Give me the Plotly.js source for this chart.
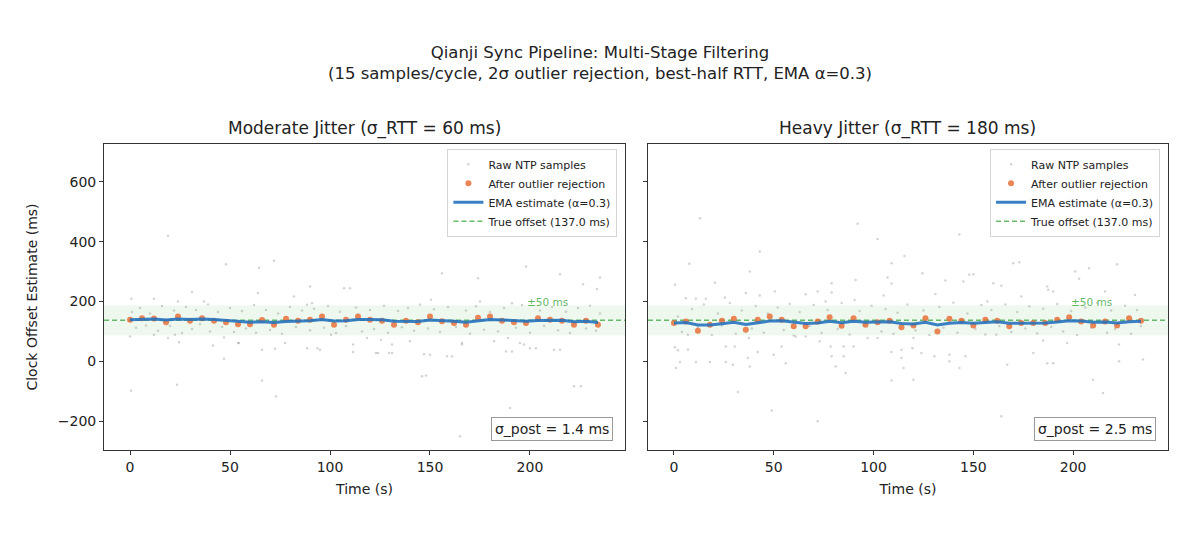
<!DOCTYPE html>
<html>
<head>
<meta charset="utf-8">
<script src="https://cdn.plot.ly/plotly-3.0.1.min.js"></script>
<style>
  body { margin: 0; background: #fff; }
  #chart { width: 1200px; height: 535px; }
</style>
</head>
<body>
<div id="chart"></div>
<script>
const trueOffset = 137.0
const bandHalf = 50

const cycleTimes = [0, 6, 12, 18, 24, 30, 36, 42, 48, 54, 60, 66, 72, 78, 84, 90, 96, 102, 108, 114,
    120, 126, 132, 138, 144, 150, 156, 162, 168, 174, 180, 186, 192, 198, 204, 210, 216, 222, 228, 234]

// moderate jitter panel
const modKept = [139, 144, 143, 131, 150, 136, 144, 136, 131, 124, 124, 138, 122, 142, 136, 139, 150, 122, 139, 150,
    139, 136, 122, 136, 131, 150, 134, 128, 122, 146, 150, 136, 131, 128, 144, 139, 136, 122, 136, 122]
const modEma = [139.0, 140.5, 141.3, 138.2, 141.7, 140.0, 141.2, 139.6, 137.0, 133.1, 130.4, 132.7, 129.5, 133.2, 134.1, 135.6, 139.9, 134.5, 135.9, 140.1,
    139.8, 138.7, 133.7, 134.4, 133.4, 138.4, 137.1, 134.4, 130.7, 135.3, 139.7, 138.6, 136.3, 133.8, 136.9, 137.5, 137.1, 132.6, 133.6, 130.1]
const modRawT = [19, 48, 64.5, 72, 90, 110, 64, 82, 0.7, 12, 24, 37, 91, 88.5, 0, 12, 19, 22.5, 24.5, 41.5,
    47, 54.5, 66, 72.5, 77.5, 88.5, 95, 100.5, 111.5, 111.5, 47, 66, 73, 0.5, 23.5, 146, 165, 190, 201, 222,
    158.5, 147, 129.5, 123, 200, 212, 188, 189, 195, 182, 166, 140, 93.7, 54, 156, 198, 174, 215, 226.5, 235,
    233.5, 150.5, 175, 191, 118.5, 125.5, 131, 124, 131, 150, 161, 166, 191, 197, 203, 215, 148, 225.5, 107, 31,
    1, 3, 5, 8, 10, 14, 16, 20, 22, 26, 28, 31, 33, 35, 39, 40, 44, 46, 50, 52,
    56, 58, 62, 63, 68, 70, 74, 76, 80, 83, 86, 90, 92, 97, 99, 103, 105, 108, 113, 116,
    120, 122, 127, 129, 134, 136, 139, 142, 145, 149, 152, 155, 159, 163, 168, 170, 173, 177, 180, 184,
    187, 193, 196, 200, 205, 207, 211, 214, 218, 220, 224, 228, 230, 233, 235]
const modRawY = [420, 324, 313, 336, 250, 244, 228, 217, 209, 209, 200, 200, 194, 189, 83, 89, 78, 89, 64, 53,
    80, 61, 39, 42, 61, 44, 39, 89, 56, 31, 9, -64, -117, -98, -78, -50, -250, -156, -189, -83,
    17, 24, 28, 28, 44, 39, 33, 78, 61, 67, 61, 67, 44, 61, 294, 317, 278, 291, 258, 280,
    242, 206, 200, 194, 78, 72, 56, 28, 28, 22, 17, 56, 33, 56, 44, 39, -47, -83, 244, 232,
    165, 112, 178, 120, 160, 102, 185, 118, 170, 95, 182, 108, 172, 125, 190, 100, 165, 115, 178, 98,
    168, 110, 188, 96, 172, 105, 160, 92, 182, 115, 170, 104, 176, 112, 185, 95, 166, 118, 180, 100,
    172, 108, 186, 96, 168, 114, 178, 102, 190, 110, 174, 98, 182, 115, 170, 92, 184, 106, 165, 100,
    178, 112, 188, 96, 170, 118, 182, 104, 166, 95, 178, 110, 186, 102, 160]

// heavy jitter panel
const heavyKept = [128, 133, 102, 122, 136, 142, 106, 139, 150, 139, 117, 117, 133, 147, 119, 144, 122, 131, 136, 114,
    120, 144, 100, 142, 136, 120, 139, 136, 117, 128, 128, 128, 139, 147, 133, 120, 133, 120, 144, 136]
const heavyEma = [128.0, 129.5, 121.3, 121.5, 125.9, 130.7, 123.3, 128.0, 134.6, 135.9, 130.2, 126.2, 128.2, 133.8, 129.4, 133.8, 130.3, 130.5, 132.2, 126.7,
    124.7, 130.5, 121.4, 127.6, 130.1, 127.1, 130.7, 132.3, 127.7, 127.8, 127.9, 127.9, 131.2, 135.9, 135.0, 130.5, 131.3, 127.9, 132.7, 133.7]
const heavyRawT = [13, 7.7, 0.5, 43, 38, 20.5, 92, 102, 115.5, 109, 107, 109, 91, 79, 72, 66, 50.5, 43, 36, 25.5,
    16, 11, 6, 79, 90.5, 105, 76, 0.5, 2, 7, 1, 3, 11, 18, 26, 29.5, 26, 30.5, 37, 38,
    42, 50, 54, 56, 32, 49, 72, 78.5, 79, 81, 85, 90, 86, 85, 97, 102, 109, 114, 114, 115,
    109, 73, 66, 61, 7, 37.5, 143, 173, 208, 222, 124.5, 136, 145, 150, 160, 187, 190, 203, 216, 231,
    131, 174, 157, 119.5, 124, 130.5, 138, 138, 146, 120, 143, 167, 180, 187, 190, 197, 210, 215, 223, 223,
    235, 164, 120, 161.5, 185, 170, 148, 164, 187.5, 201,
    2, 4, 9, 12, 15, 19, 22, 24, 28, 31, 34, 39, 41, 45, 47, 52, 55, 58, 60, 63,
    68, 70, 74, 77, 82, 84, 88, 93, 95, 99, 104, 106, 110, 112, 117, 121, 125, 128, 133, 135,
    140, 142, 147, 151, 154, 156, 159, 163, 166, 169, 172, 176, 178, 182, 185, 189, 192, 195, 199, 202,
    206, 209, 212, 217, 219, 221, 226, 229, 232, 234]
const heavyRawY = [478, 326, 256, 367, 300, 263, 460, 409, 352, 328, 280, 260, 272, 261, 233, 224, 233, 220, 228, 213,
    209, 209, 211, 230, 205, 220, 200, 47, 37, 40, -22, -2, -2, -2, -2, -11, 50, 50, 11, -17,
    31, 22, 50, -6, -102, -164, -200, 50, 17, -17, 50, 50, -39, 17, 78, 78, 31, 39, 11, -22,
    -64, 67, 83, 83, 89, 78, 424, 331, 311, 324, 294, 270, 267, 291, 261, 250, 233, 276, 233, 222,
    225, 217, 200, 44, 28, 17, 22, 0, 17, -61, -22, -11, 28, -6, -6, 61, -61, -106, 0, 56,
    6, -183, 78, 89, 70, 328, 289, 253, 239, 300,
    150, 98, 175, 115, 190, 88, 160, 120, 195, 92, 170, 110, 185, 96, 160, 180, 105, 192, 86, 165,
    118, 188, 95, 172, 108, 195, 90, 168, 120, 186, 100, 175, 92, 162, 190, 104, 170, 88, 182, 112,
    196, 96, 160, 108, 188, 90, 172, 118, 190, 98, 165, 110, 184, 94, 176, 115, 192, 100, 168, 88,
    180, 112, 195, 96, 170, 108, 186, 92, 172, 118]

const panelTitles = ['Moderate Jitter (σ_RTT = 60 ms)', 'Heavy Jitter (σ_RTT = 180 ms)']
const sigmaPost = ['σ_post = 1.4 ms', 'σ_post = 2.5 ms']
const xTicks = [0, 50, 100, 150, 200]
const yTicks = [-200, 0, 200, 400, 600]
const xRange = [-13, 247.5]
const yRange = [-296, 726]

const fontFam = 'DejaVu Sans, Liberation Sans, sans-serif'

function panelTraces(rawT, rawY, kept, ema, xa, ya, leg) {
    return [
        {
            x: [xRange[0], xRange[1]], y: [trueOffset, trueOffset],
            xaxis: xa, yaxis: ya, legend: leg, legendrank: 4,
            mode: 'lines', name: 'True offset (' + trueOffset.toFixed(1) + ' ms)',
            line: { color: 'rgba(44,160,44,0.7)', width: 1.5, dash: '5px,3px' }
        },
        {
            x: rawT, y: rawY, xaxis: xa, yaxis: ya, legend: leg, legendrank: 1,
            mode: 'markers', name: 'Raw NTP samples',
            marker: { color: 'rgba(120,120,120,0.32)', size: 2.5 }
        },
        {
            x: cycleTimes, y: kept, xaxis: xa, yaxis: ya, legend: leg, legendrank: 2,
            mode: 'markers', name: 'After outlier rejection',
            marker: { color: 'rgba(232,112,56,0.85)', size: 6 }
        },
        {
            x: cycleTimes, y: ema, xaxis: xa, yaxis: ya, legend: leg, legendrank: 3,
            mode: 'lines', name: 'EMA estimate (α=0.3)',
            line: { color: 'rgba(38,114,190,0.9)', width: 3 }
        }
    ]
}

const traces = [
    ...panelTraces(modRawT, modRawY, modKept, modEma, 'x', 'y', 'legend'),
    ...panelTraces(heavyRawT, heavyRawY, heavyKept, heavyEma, 'x2', 'y2', 'legend2')
]

const axisStyle = {
    showgrid: false, zeroline: false, showline: true, mirror: true,
    linecolor: '#333', linewidth: 1, ticks: 'outside', ticklen: 4, tickcolor: '#333',
    tickfont: { family: fontFam, size: 14, color: '#222' }
}

const legendStyle = {
    xanchor: 'right', yanchor: 'top', y: 0.722,
    bgcolor: 'rgba(255,255,255,0.85)', bordercolor: '#d5d5d5', borderwidth: 1,
    font: { family: fontFam, size: 11, color: '#222' }
}

const annotations = []
const panels = [['x', 'y'], ['x2', 'y2']]
panels.forEach(function (p, i) {
    annotations.push({
        text: panelTitles[i], xref: p[0] + ' domain', yref: 'paper', x: 0.5, y: 0.759,
        xanchor: 'center', yanchor: 'middle', showarrow: false,
        font: { family: fontFam, size: 17, color: '#222' }
    })
    annotations.push({
        text: sigmaPost[i], xref: p[0] + ' domain', yref: p[1] + ' domain', x: 0.977, y: 0.03,
        xanchor: 'right', yanchor: 'bottom', showarrow: false,
        bgcolor: '#fff', bordercolor: '#999', borderwidth: 1, borderpad: 3,
        font: { family: fontFam, size: 14, color: '#222' }
    })
    annotations.push({
        text: '±' + bandHalf + ' ms', xref: p[0], yref: p[1], x: 209, y: trueOffset + bandHalf,
        xanchor: 'center', yanchor: 'bottom', yshift: -5, showarrow: false,
        font: { family: fontFam, size: 10.5, color: 'rgba(44,160,44,0.75)' }
    })
})

const shapes = panels.map(function (p) {
    return {
        type: 'rect', xref: p[0] + ' domain', yref: p[1], x0: 0, x1: 1,
        y0: trueOffset - bandHalf, y1: trueOffset + bandHalf,
        fillcolor: 'rgba(44,160,44,0.08)', line: { width: 0 }, layer: 'below'
    }
})

const layout = {
    width: 1200, height: 535,
    margin: { l: 0, r: 0, t: 0, b: 0 },
    paper_bgcolor: '#fff', plot_bgcolor: '#fff',
    font: { family: fontFam, color: '#222' },
    title: {
        text: 'Qianji Sync Pipeline: Multi-Stage Filtering<br>(15 samples/cycle, 2σ outlier rejection, best-half RTT, EMA α=0.3)',
        x: 0.5, xanchor: 'center', y: 0.892, yanchor: 'middle',
        font: { family: fontFam, size: 16.5, color: '#222' }
    },
    xaxis: Object.assign({}, axisStyle, {
        domain: [0.0867, 0.5208], range: xRange, anchor: 'y', tickvals: xTicks,
        title: { text: 'Time (s)', font: { family: fontFam, size: 14 }, standoff: 10 }
    }),
    yaxis: Object.assign({}, axisStyle, {
        domain: [0.1589, 0.7308], range: yRange, anchor: 'x', tickvals: yTicks,
        title: { text: 'Clock Offset Estimate (ms)', font: { family: fontFam, size: 14 }, standoff: 16 }
    }),
    xaxis2: Object.assign({}, axisStyle, {
        domain: [0.54, 0.9733], range: xRange, anchor: 'y2', tickvals: xTicks,
        title: { text: 'Time (s)', font: { family: fontFam, size: 14 }, standoff: 10 }
    }),
    yaxis2: Object.assign({}, axisStyle, {
        domain: [0.1589, 0.7308], range: yRange, anchor: 'x2', matches: 'y',
        tickvals: yTicks, showticklabels: false
    }),
    legend: Object.assign({}, legendStyle, { x: 0.5145 }),
    legend2: Object.assign({}, legendStyle, { x: 0.9667 }),
    showlegend: true,
    annotations: annotations,
    shapes: shapes
}

Plotly.newPlot('chart', traces, layout, { displayModeBar: false, staticPlot: true })
</script>
</body>
</html>
